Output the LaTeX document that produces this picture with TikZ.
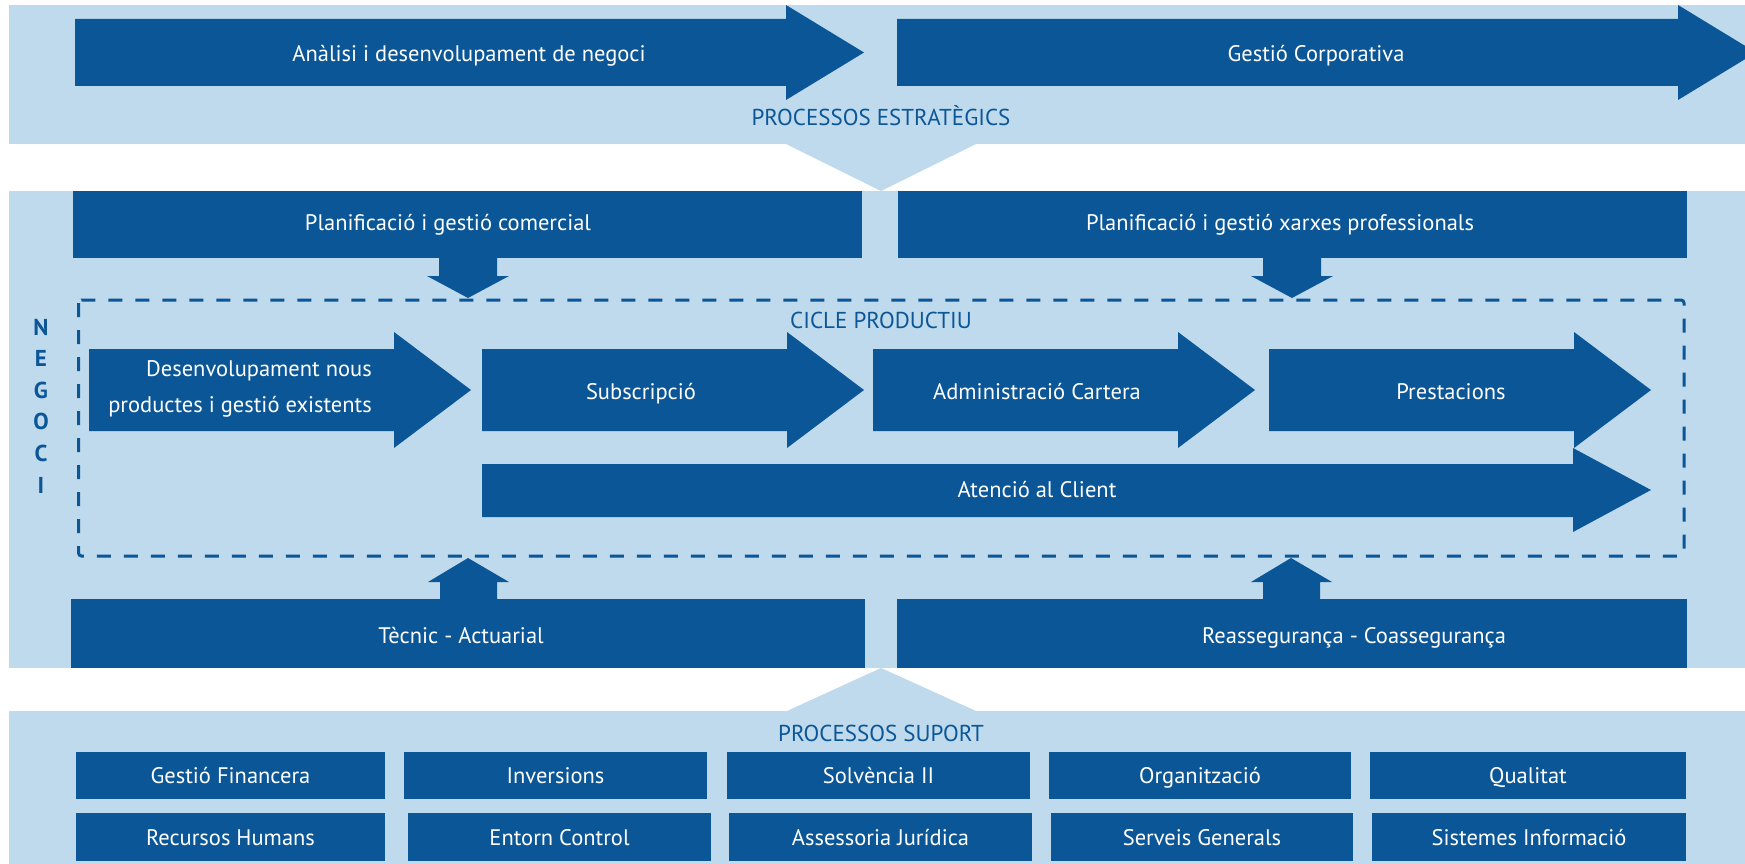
\documentclass[tikz,border=0pt]{standalone}
\usepackage{fontspec}
\setmainfont{PT Sans}
\usetikzlibrary{
  positioning,
}
\definecolor{procblue}{RGB}{11, 86, 150}
\definecolor{procback}{RGB}{190, 218, 236}
\tikzstyle{boxtext} = [
  text=white,
  inner sep=0pt,
  text height=16pt,
  text depth=0pt,
  font=\fontsize{22.5}{27}\selectfont,
]
\tikzstyle{headtext} = [
  text=procblue,
  inner sep=0pt,
  text height=16pt,
  text depth=0pt,
  font=\fontsize{23}{27}\selectfont,
]
\tikzstyle{supbox} = [
  boxtext,
  fill=procblue,
  minimum height=47pt,
]

\begin{document}
\begin{tikzpicture}[x=1pt, y=-1pt]

        \clip (0,0) rectangle (1745,864);
        \fill [white] (0,0) rectangle (1745,864);

        % processos estrategics
        \fill [procback] (9,5) rectangle (1745,144);

        \fill [procblue] (75,19) -- (786,19) -- (786,5) -- (864,52.5)
              -- (786,100) -- (786,86) -- (75,86) -- cycle;
        \node [boxtext] (analisi) at (469,54) {Anàlisi i desenvolupament de negoci};

        \fill [procblue] (897,19) -- (1678,19) -- (1678,5) -- (1756,52.5)
              -- (1678,100) -- (1678,86) -- (897,86) -- cycle;
        \node [boxtext] (corp) at (1316,54) {Gestió Corporativa};

        \node [headtext] (estrat) at (881,117.5) {PROCESSOS ESTRATÈGICS};

        \fill [procback] (786,144) -- (976,144) -- (881,191) -- cycle;

        % negoci
        \fill [procback] (9,191) rectangle (1745,668);

        \fill [procblue] (73,191) rectangle (862,258);
        \node [boxtext] (comercial) at (448,222) {Planificació i gestió comercial};

        \fill [procblue] (898,191) rectangle (1687,258);
        \node [boxtext] (xarxes) at (1280,222) {Planificació i gestió xarxes professionals};

        \foreach \cx in {468, 1292} {
          \fill [procblue] (\cx-29,258) -- (\cx+29,258) -- (\cx+29,276) -- (\cx+41,276)
                -- (\cx,298) -- (\cx-41,276) -- (\cx-29,276) -- cycle;
        }

        \node [headtext, font=\bfseries\fontsize{23}{31.6}\selectfont, text height=, text depth=,
               align=center] (negoci) at (41,406) {N\\E\\G\\O\\C\\I};

        \draw [procblue, line width=3pt, dash pattern=on 14pt off 13pt, rounded corners=3pt]
              (78.5,300) rectangle (1684,556);

        \node [headtext] (cicle) at (881,320) {CICLE PRODUCTIU};

        % cicle productiu
        \foreach \xa in {89, 482, 873, 1269} {
          \fill [procblue] (\xa,349) -- (\xa+305,349) -- (\xa+305,332) -- (\xa+382,390)
                -- (\xa+305,448) -- (\xa+305,431) -- (\xa,431) -- cycle;
        }

        \node [boxtext, text height=, text depth=, align=right, anchor=east,
               font=\fontsize{22.5}{36}\selectfont] (desenv) at (372,389)
              {Desenvolupament nous\\productes i gestió existents};
        \node [boxtext] (subscr) at (641,391) {Subscripció};
        \node [boxtext] (admin) at (1037,391) {Administració Cartera};
        \node [boxtext] (prest) at (1451,391) {Prestacions};

        \fill [procblue] (482,464) -- (1573,464) -- (1573,448) -- (1651,490)
              -- (1573,532) -- (1573,517) -- (482,517) -- cycle;
        \node [boxtext] (client) at (1037,489) {Atenció al Client};

        \foreach \cx in {468, 1291} {
          \fill [procblue] (\cx-28,599) -- (\cx+29,599) -- (\cx+29,582) -- (\cx+41,582)
                -- (\cx,558) -- (\cx-40,582) -- (\cx-28,582) -- cycle;
        }

        \fill [procblue] (71,599) rectangle (865,668);
        \node [boxtext] (tecnic) at (461,635) {Tècnic - Actuarial};

        \fill [procblue] (897,599) rectangle (1687,668);
        \node [boxtext] (reasseg) at (1354,635) {Reassegurança - Coassegurança};

        % processos suport
        \fill [procback] (787,711) -- (976,711) -- (881,668) -- cycle;
        \fill [procback] (9,711) rectangle (1745,864);

        \node [headtext] (suport) at (881,733.5) {PROCESSOS SUPORT};

        \foreach \xa/\xb/\name/\txt in {
            76/385/financera/Gestió Financera,
            404/707/inversions/Inversions,
            727/1030/solvencia/Solvència II,
            1049/1351/organitz/Organització,
            1370/1686/qualitat/Qualitat} {
          \node [supbox, minimum width={(\xb-\xa)*1pt}] (\name) at ({(\xa+\xb)/2},775.5) {\txt};
        }

        \foreach \xa/\xb/\name/\txt in {
            76/385/recursos/Recursos Humans,
            408/711/entorn/Entorn Control,
            729/1032/juridica/Assessoria Jurídica,
            1051/1353/serveis/Serveis Generals,
            1372/1686/sistemes/Sistemes Informació} {
          \node [supbox, minimum width={(\xb-\xa)*1pt}, minimum height=48pt] (\name)
                at ({(\xa+\xb)/2},837) {\txt};
        }
      \end{tikzpicture}
\end{document}
